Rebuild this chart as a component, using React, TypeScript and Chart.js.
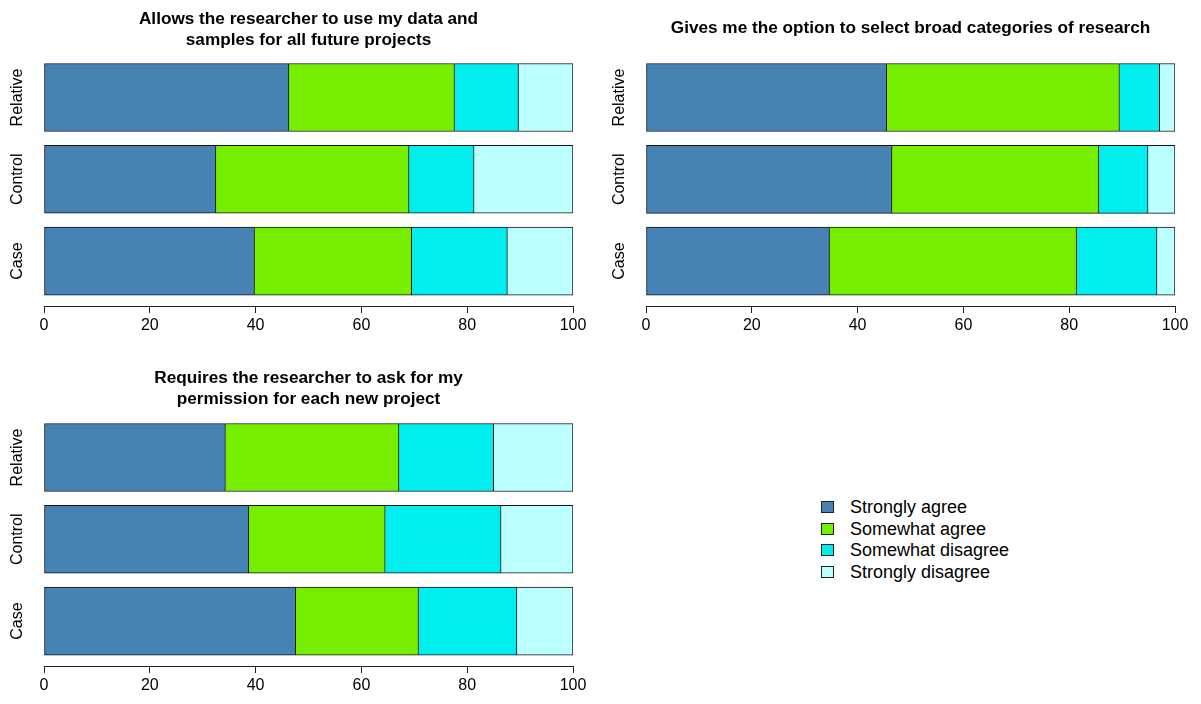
import React, { useEffect, useRef } from 'react';
import { Chart, registerables } from 'chart.js';

Chart.register(...registerables);

// ---------- data ----------
const groups = ['Case', 'Control', 'Relative']; // bottom -> top
const responses = ['Strongly agree', 'Somewhat agree', 'Somewhat disagree', 'Strongly disagree'];
const xTickValues = [0, 20, 40, 60, 80, 100];

const titleAllFuture = ['Allows the researcher to use my data and', 'samples for all future projects'];
const titleBroad = 'Gives me the option to select broad categories of research';
const titlePermission = ['Requires the researcher to ask for my', 'permission for each new project'];

// Panel 1: Allows the researcher to use my data for all future projects
const allFutureStronglyAgree = [39.8, 32.5, 46.3];
const allFutureSomewhatAgree = [29.7, 36.5, 31.3];
const allFutureSomewhatDisagree = [18.1, 12.3, 12.1];
const allFutureStronglyDisagree = [12.4, 18.7, 10.3];

// Panel 2: Gives me the option to select broad categories of research
const broadStronglyAgree = [34.7, 46.5, 45.5];
const broadSomewhatAgree = [46.7, 39.1, 44.0];
const broadSomewhatDisagree = [15.2, 9.3, 7.6];
const broadStronglyDisagree = [3.4, 5.1, 2.9];

// Panel 3: Requires the researcher to ask for my permission for each new project
const permissionStronglyAgree = [47.6, 38.7, 34.3];
const permissionSomewhatAgree = [23.2, 25.8, 32.8];
const permissionSomewhatDisagree = [18.6, 21.9, 17.9];
const permissionStronglyDisagree = [10.6, 13.6, 15.0];

// ---------- styles ----------
const colors = ['#4682B4', '#76EE00', '#00EEEE', '#BBFFFF'];
const FONT = '"Liberation Sans", Arial, Helvetica, sans-serif';

type PanelDef = {
  title: string | string[];
  series: number[][];
  left: number;
  top: number;
  width: number;
  height: number;
  titlePadTop: number;
  titlePadBottom: number;
  xHeight: number;
};

const panels: PanelDef[] = [
  {
    title: titleAllFuture,
    series: [allFutureStronglyAgree, allFutureSomewhatAgree, allFutureSomewhatDisagree, allFutureStronglyDisagree],
    left: 0, top: 0, width: 600, height: 345,
    titlePadTop: 9, titlePadBottom: 5.6, xHeight: 39,
  },
  {
    title: titleBroad,
    series: [broadStronglyAgree, broadSomewhatAgree, broadSomewhatDisagree, broadStronglyDisagree],
    left: 602, top: 0, width: 599, height: 345,
    titlePadTop: 17.5, titlePadBottom: 18.1, xHeight: 39,
  },
  {
    title: titlePermission,
    series: [permissionStronglyAgree, permissionSomewhatAgree, permissionSomewhatDisagree, permissionStronglyDisagree],
    left: 0, top: 360, width: 600, height: 344,
    titlePadTop: 8, titlePadBottom: 6.6, xHeight: 38,
  },
];

// chart area spans 250px vertically, 82px per group
const Y_MIN = -0.5488;
const Y_MAX = 2.5;

const yLabelPlugin = {
  id: 'rYLabels',
  afterDraw(chart: any) {
    const ys = chart.scales.y;
    const ctx = chart.ctx;
    ctx.save();
    ctx.font = `16px ${FONT}`;
    ctx.fillStyle = '#000';
    ctx.textAlign = 'center';
    ctx.textBaseline = 'middle';
    groups.forEach((g, i) => {
      const y = ys.getPixelForValue(i);
      ctx.save();
      ctx.translate(18, y);
      ctx.rotate(-Math.PI / 2);
      ctx.fillText(g, 0, 0);
      ctx.restore();
    });
    ctx.restore();
  },
};

function Panel({ def }: { def: PanelDef }) {
  const ref = useRef<HTMLCanvasElement | null>(null);
  useEffect(() => {
    if (!ref.current) return;
    const chart = new Chart(ref.current, {
      type: 'bar',
      data: {
        datasets: def.series.map((vals, si) => ({
          label: responses[si],
          data: vals.map((v, gi) => ({ x: v, y: gi })),
          backgroundColor: colors[si],
          borderColor: '#111',
          borderWidth: 1,
          borderSkipped: si === 0 ? false : 'left',
          barThickness: 68,
        })),
      },
      plugins: [yLabelPlugin],
      options: {
        indexAxis: 'y',
        responsive: false,
        animation: false,
        devicePixelRatio: 1,
        layout: { padding: { left: 44, right: def.width - 573, top: 0, bottom: 0 } },
        plugins: {
          legend: { display: false },
          tooltip: { enabled: false },
          title: {
            display: true,
            text: def.title,
            color: '#000',
            font: { family: FONT, size: 17.2, weight: 'bold', lineHeight: 1.22 },
            padding: { top: def.titlePadTop, bottom: def.titlePadBottom },
          },
        },
        scales: {
          x: {
            type: 'linear',
            min: 0,
            max: 100,
            stacked: true,
            afterBuildTicks: (scale: any) => {
              scale.ticks = xTickValues.map((v) => ({ value: v }));
            },
            afterFit: (scale: any) => {
              scale.height = def.xHeight;
            },
            ticks: {
              color: '#000',
              font: { family: FONT, size: 16 },
              padding: 2.5,
              maxRotation: 0,
              autoSkip: false,
            },
            grid: {
              display: true,
              drawOnChartArea: false,
              drawTicks: true,
              tickLength: 7,
              color: '#222',
              lineWidth: 1,
            },
            border: { display: true, color: '#222', width: 1 },
          },
          y: {
            type: 'linear',
            display: false,
            offset: false,
            grid: { offset: false },
            min: Y_MIN,
            max: Y_MAX,
            stacked: true,
          },
        },
      } as any,
    });
    return () => chart.destroy();
  }, [def]);
  return (
    <canvas
      ref={ref}
      width={def.width}
      height={def.height}
      style={{ position: 'absolute', left: def.left, top: def.top, width: def.width, height: def.height }}
    />
  );
}

const legendRowCenters = [507, 528.5, 550, 571.5];

export default function App() {
  return (
    <div style={{ position: 'absolute', left: 0, top: 0, width: 1201, height: 704, background: '#fff', overflow: 'hidden' }}>
      {panels.map((p, i) => (
        <Panel key={i} def={p} />
      ))}
      {responses.map((r, i) => (
        <React.Fragment key={r}>
          <div
            style={{
              position: 'absolute',
              left: 821,
              top: legendRowCenters[i] - 6,
              width: 13,
              height: 12,
              boxSizing: 'border-box',
              border: '1px solid #222',
              background: colors[i],
            }}
          />
          <div
            style={{
              position: 'absolute',
              left: 850,
              top: legendRowCenters[i] - 11,
              height: 22,
              lineHeight: '22px',
              fontFamily: FONT,
              fontSize: 18,
              color: '#000',
              whiteSpace: 'nowrap',
            }}
          >
            {r}
          </div>
        </React.Fragment>
      ))}
    </div>
  );
}
